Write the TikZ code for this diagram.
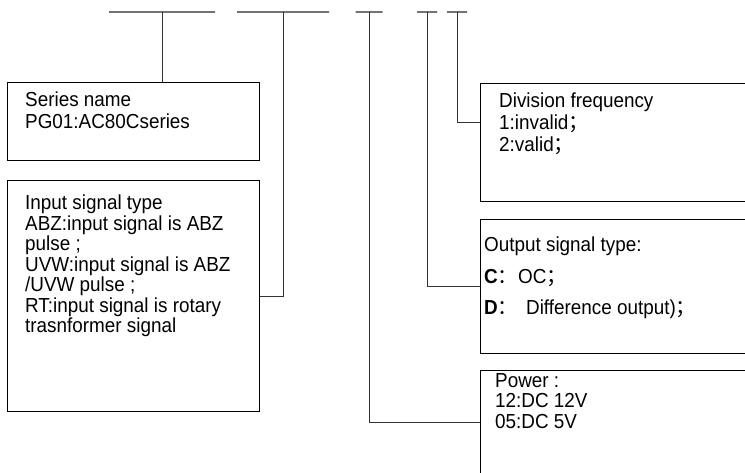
\documentclass[tikz,border=0pt]{standalone}
\usepackage{fontspec}
\setmainfont{Liberation Sans}[FakeStretch=0.93]
\newfontfamily\cjkfont{Noto Sans CJK SC}
\usetikzlibrary{calc}
\newcommand{\fwc}{{\cjkfont ：}}
\newcommand{\fws}{{\cjkfont ；}}
\tikzstyle{codebox}=[draw=black, line width=1.3pt, anchor=north west,% box round one field
inner sep=0pt]
\tikzstyle{codetxt}=[anchor=north west, align=left, inner sep=0pt]
\tikzstyle{bar}=[draw=black!55, line width=1.3pt, minimum height=0pt, inner sep=0pt]
\tikzstyle{wire}=[draw=black!80, line width=0.9pt]

\begin{document}
\begin{tikzpicture}[x=1pt, y=-1pt]
\useasboundingbox (0,0) rectangle (745,473);
\clip (0,0) rectangle (745,473);

% the five fields of the code
\node[bar, minimum width=106pt] (bar1) at (162,12) {};
\node[bar, minimum width=92pt] (bar2) at (283,12) {};
\node[bar, minimum width=27pt] (bar3) at (369,12) {};
\node[bar, minimum width=20pt] (bar4) at (427,12) {};
\node[bar, minimum width=20pt] (bar5) at (457,12) {};

\node[codebox, minimum width=252pt, minimum height=78pt] (series) at (7,82) {};
\node[codebox, minimum width=252pt, minimum height=231pt] (input) at (7,180) {};
\node[codebox, minimum width=290pt, minimum height=118pt] (division) at (480,83) {};
\node[codebox, minimum width=290pt, minimum height=134pt] (output) at (480,219) {};
\node[codebox, minimum width=290pt, minimum height=104pt] (power) at (480,370) {};

\node[codetxt, font=\fontsize{20.3}{22}\selectfont] (seriestxt) at (25,92)
  {Series name\\PG01:AC80Cseries};
\node[codetxt, font=\fontsize{20.3}{20.5}\selectfont] (inputtxt) at (25,195)
  {Input signal type\\ABZ:input signal is ABZ\\pulse ;\\UVW:input signal is ABZ\\/UVW pulse ;\\RT:input signal is rotary\\trasnformer signal};
\node[codetxt, font=\fontsize{20.3}{22}\selectfont] (divisiontxt) at (499,93)
  {Division frequency\\1:invalid\fws\\2:valid\fws};
\node[codetxt, font=\fontsize{20.3}{31.5}\selectfont] (outputtxt) at (484,237)
  {Output signal type:\\\textbf{C}\fwc OC\fws\\\textbf{D}\fwc\hspace{8pt}Difference output)\fws};
\node[codetxt, font=\fontsize{20.3}{20.5}\selectfont] (powertxt) at (495,373)
  {Power :\\12:DC 12V\\05:DC 5V};

\draw[wire] (bar1.center) -- (bar1.center |- series.north);
\draw[wire] (bar2.center) |- (input.east);
\draw[wire] (bar3.center) |- (power.west);
\draw[wire] (bar4.center) |- (output.west);
\draw[wire] (bar5.center) |- ([yshift=20pt]division.west);

\end{tikzpicture}
\end{document}
